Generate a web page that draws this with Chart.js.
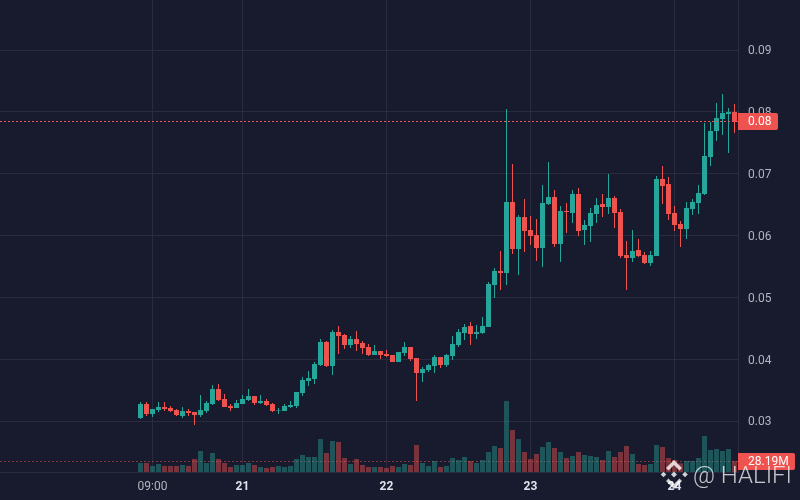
<!DOCTYPE html>
<html>
<head>
<meta charset="utf-8">
<style>
html, body { margin: 0; padding: 0; background: #181a2e; }
#wrap { width: 800px; height: 500px; }
</style>
<script src="https://cdn.jsdelivr.net/npm/chart.js@4"></script>
</head>
<body>
<div id="wrap"><canvas id="myChart" width="800" height="500"></canvas></div>
<script>
// one candle per hour, first one is 07:00
var opens = [0.03055,0.03281,0.03120,0.03184,0.03233,0.03217,0.03184,0.03087,0.03168,0.03152,
  0.03103,0.03168,0.03281,0.03523,0.03362,0.03249,0.03217,0.03281,0.03346,0.03410,
  0.03297,0.03330,0.03281,0.03176,0.03168,0.03233,0.03249,0.03459,0.03653,0.03685,
  0.03911,0.04283,0.03895,0.04444,0.04396,0.04234,0.04331,0.04267,0.04202,0.04073,
  0.04137,0.04089,0.04073,0.03960,0.04105,0.04202,0.04024,0.03782,0.03830,0.03895,
  0.04040,0.03911,0.04057,0.04234,0.04428,0.04541,0.04412,0.04428,0.04525,0.05204,
  0.05430,0.05398,0.06545,0.05785,0.06302,0.06092,0.06011,0.05801,0.06512,0.06625,
  0.05866,0.06399,0.06367,0.06674,0.06092,0.06157,0.06351,0.06512,0.06464,0.06609,
  0.06383,0.05688,0.05640,0.05769,0.05688,0.05559,0.05672,0.06916,0.06835,0.06367,
  0.06189,0.06108,0.06431,0.06528,0.06674,0.07271,0.07692,0.07885,0.07966,0.07998];
var closes = [0.03281,0.03120,0.03200,0.03233,0.03200,0.03168,0.03103,0.03168,0.03136,0.03103,
  0.03184,0.03297,0.03523,0.03346,0.03233,0.03217,0.03297,0.03362,0.03410,0.03297,
  0.03330,0.03265,0.03168,0.03184,0.03249,0.03265,0.03475,0.03669,0.03701,0.03927,
  0.04283,0.03895,0.04444,0.04380,0.04234,0.04331,0.04250,0.04186,0.04073,0.04137,
  0.04073,0.04057,0.03960,0.04121,0.04202,0.04008,0.03782,0.03846,0.03911,0.04040,
  0.03911,0.04073,0.04250,0.04444,0.04525,0.04412,0.04444,0.04541,0.05220,0.05430,
  0.05398,0.06545,0.05785,0.06302,0.06076,0.05995,0.05801,0.06528,0.06625,0.05866,
  0.06399,0.06383,0.06674,0.06076,0.06173,0.06367,0.06496,0.06464,0.06609,0.06367,
  0.05672,0.05640,0.05753,0.05672,0.05559,0.05688,0.06916,0.06803,0.06351,0.06173,
  0.06108,0.06448,0.06545,0.06690,0.07288,0.07692,0.07901,0.07982,0.07998,0.07837];
var highs = [0.03313,0.03313,0.03200,0.03313,0.03313,0.03249,0.03200,0.03233,0.03200,0.03152,
  0.03426,0.03330,0.03588,0.03604,0.03442,0.03281,0.03346,0.03426,0.03523,0.03410,
  0.03426,0.03362,0.03297,0.03217,0.03281,0.03330,0.03475,0.03717,0.03814,0.03960,
  0.04331,0.04299,0.04477,0.04541,0.04412,0.04380,0.04460,0.04299,0.04250,0.04234,
  0.04137,0.04153,0.04073,0.04121,0.04283,0.04202,0.04024,0.03879,0.03927,0.04073,
  0.04040,0.04089,0.04380,0.04493,0.04574,0.04606,0.04557,0.04687,0.05252,0.05478,
  0.05753,0.08047,0.07158,0.06334,0.06593,0.06318,0.06270,0.06819,0.07191,0.06738,
  0.06480,0.06528,0.06738,0.06771,0.06254,0.06448,0.06609,0.06674,0.06997,0.06641,
  0.06431,0.05914,0.06092,0.05947,0.05737,0.05753,0.06964,0.07126,0.06948,0.06480,
  0.06238,0.06545,0.06593,0.06819,0.07821,0.07837,0.08144,0.08289,0.08063,0.08128];
var lows = [0.03039,0.03087,0.03071,0.03152,0.03168,0.03152,0.03087,0.03055,0.03087,0.02942,
  0.03071,0.03136,0.03265,0.03330,0.03233,0.03168,0.03217,0.03281,0.03330,0.03265,
  0.03281,0.03249,0.03152,0.03120,0.03168,0.03217,0.03217,0.03410,0.03572,0.03604,
  0.03895,0.03879,0.03749,0.04089,0.04170,0.04186,0.04137,0.04089,0.04057,0.04073,
  0.04008,0.04040,0.03960,0.03960,0.04057,0.03976,0.03330,0.03636,0.03798,0.03782,
  0.03863,0.03879,0.03992,0.04202,0.04315,0.04234,0.04331,0.04412,0.04525,0.04993,
  0.05123,0.05204,0.05704,0.05365,0.05737,0.05850,0.05591,0.05494,0.06496,0.05818,
  0.05575,0.06044,0.06205,0.05995,0.05850,0.05898,0.06205,0.06302,0.06351,0.06125,
  0.05640,0.05123,0.05575,0.05656,0.05543,0.05511,0.05672,0.06512,0.06254,0.06076,
  0.05818,0.05947,0.06334,0.06351,0.06658,0.07126,0.07530,0.07627,0.07336,0.07659];
// volume in millions
var volumes = [23.1,23.1,15.4,20.5,15.4,15.4,15.4,17.9,15.4,33.3,
  53.8,23.1,48.7,33.3,23.1,12.8,17.9,17.9,23.1,17.9,
  12.8,10.2,12.8,15.4,12.8,15.4,33.3,43.6,38.4,38.4,
  84.5,48.7,79.4,76.9,35.9,20.5,33.3,17.9,12.8,12.8,
  12.8,10.2,15.4,12.8,20.5,17.9,69.2,23.1,15.4,28.2,
  12.8,15.4,35.9,30.7,38.4,28.2,23.1,30.7,51.2,66.6,
  61.5,181.9,107.6,84.5,51.2,33.3,46.1,64.0,76.9,61.5,
  51.2,35.9,41.0,51.2,43.6,41.0,38.4,30.7,53.8,38.4,
  51.2,66.6,46.1,20.5,17.9,20.5,69.2,64.0,35.9,30.7,
  22.2,28.2,28.2,35.9,92.2,56.4,58.9,53.8,58.9,28.19];

var priceTicks = [0.03, 0.04, 0.05, 0.06, 0.07, 0.08, 0.09];
var timeTickPos = [2, 17, 41, 65, 89];
var timeTickLabels = ['09:00', '21', '22', '23', '24'];

var lastPrice = 0.07845;
var lastVolume = 26.93;
var lastPriceLabel = '0.08';
var lastVolumeLabel = '28.19M';
var watermark = '@ HALIFI';

var UP = '#26a69a', DOWN = '#ef5350';
var UP_VOL = 'rgba(38,166,154,0.42)', DOWN_VOL = 'rgba(239,83,80,0.45)';
var GRID = '#2a2b3f', TEXT = '#b2b5be';
var FONT = 'Roboto, "Liberation Sans", sans-serif';

var xMin = -23.417, xMax = 99.583;

function isUp(i) { return closes[i] >= opens[i]; }

var bodyData = [], wickData = [], volData = [];
var bodyColors = [], volColors = [];
for (var i = 0; i < opens.length; i++) {
    bodyData.push({ x: i, y: [opens[i], closes[i]] });
    wickData.push({ x: i, y: [lows[i], highs[i]] });
    volData.push({ x: i, y: volumes[i] });
    bodyColors.push(isUp(i) ? UP : DOWN);
    volColors.push(isUp(i) ? UP_VOL : DOWN_VOL);
}

// price tags + watermark go on top of everything
var overlay = {
    id: 'overlay',
    afterDraw: function (chart) {
        var c = chart.ctx;
        var right = chart.chartArea.right;
        function tag(text, y, w) {
            var mid = Math.floor(y) + 0.5;
            c.save();
            c.fillStyle = DOWN;
            c.beginPath();
            c.roundRect(right, mid - 8.5, w, 17, [0, 2, 2, 0]);
            c.fill();
            c.fillStyle = '#ffffff';
            c.font = '12px ' + FONT;
            c.textBaseline = 'middle';
            c.textAlign = 'left';
            c.fillText(text, right + 10, mid);
            c.restore();
        }
        tag(lastPriceLabel, chart.scales.y.getPixelForValue(lastPrice), 40);
        tag(lastVolumeLabel, chart.scales.vol.getPixelForValue(lastVolume), 57);

        // binance style logo
        c.save();
        c.fillStyle = 'rgba(255,255,255,0.8)';
        function diamond(cx, cy, r) {
            c.beginPath();
            c.moveTo(cx, cy - r); c.lineTo(cx + r, cy); c.lineTo(cx, cy + r); c.lineTo(cx - r, cy);
            c.closePath();
            c.fill();
        }
        function chevron(cx, cy, dir) {
            c.beginPath();
            c.moveTo(cx, cy - 7.5 * dir);
            c.lineTo(cx + 8, cy + 0.5 * dir);
            c.lineTo(cx + 5.5, cy + 3 * dir);
            c.lineTo(cx, cy - 2.5 * dir);
            c.lineTo(cx - 5.5, cy + 3 * dir);
            c.lineTo(cx - 8, cy + 0.5 * dir);
            c.closePath();
            c.fill();
        }
        diamond(674, 474.5, 3);
        diamond(663.5, 474.5, 2.8);
        diamond(685, 474.5, 2.8);
        chevron(674, 467.5, 1);
        chevron(674, 481.5, -1);
        c.font = '300 24px ' + FONT;
        c.textBaseline = 'alphabetic';
        c.textAlign = 'left';
        c.fillStyle = 'rgba(255,255,255,0.75)';
        c.fillText(watermark, 693, 483);
        c.restore();
    }
};

var ctx = document.getElementById('myChart').getContext('2d');
var chart = new Chart(ctx, {
    type: 'bar',
    data: {
        datasets: [
            {
                type: 'line', data: [{ x: xMin, y: lastPrice }, { x: xMax, y: lastPrice }], yAxisID: 'y',
                borderColor: DOWN, borderWidth: 1, borderDash: [2, 2], pointRadius: 0, order: 1
            },
            {
                type: 'line', data: [{ x: xMin, y: lastVolume }, { x: xMax, y: lastVolume }], yAxisID: 'vol',
                borderColor: 'rgba(239,83,80,0.5)', borderWidth: 1, borderDash: [2, 2], pointRadius: 0, order: 5
            },
            {
                data: bodyData, yAxisID: 'y', backgroundColor: bodyColors,
                barThickness: 5, grouped: false, inflateAmount: 0, order: 2
            },
            {
                data: wickData, yAxisID: 'y', backgroundColor: bodyColors,
                barThickness: 1, grouped: false, inflateAmount: 0, order: 3
            },
            {
                data: volData, yAxisID: 'vol', backgroundColor: volColors,
                barThickness: 5, grouped: false, inflateAmount: 0, order: 4
            }
        ]
    },
    options: {
        responsive: false,
        animation: false,
        layout: { padding: 0 },
        plugins: { legend: { display: false }, tooltip: { enabled: false } },
        scales: {
            x: {
                type: 'linear',
                bounds: 'data',
                min: xMin,
                max: xMax,
                offset: false,
                afterBuildTicks: function (axis) {
                    axis.ticks = timeTickPos.map(function (v) { return { value: v }; });
                },
                afterFit: function (axis) {
                    axis.height = 28;
                    axis.paddingLeft = 0;
                    axis.paddingRight = 0;
                },
                border: { color: GRID },
                grid: { color: GRID, drawTicks: false, offset: false },
                ticks: {
                    autoSkip: false,
                    maxRotation: 0,
                    padding: 8,
                    callback: function (v) { return timeTickLabels[timeTickPos.indexOf(v)]; },
                    color: function (c) { return c.index === 0 ? TEXT : '#e0e3eb'; },
                    font: function (c) {
                        return { family: FONT, size: 12, weight: c.index === 0 ? 'normal' : 'bold' };
                    }
                }
            },
            y: {
                position: 'right',
                bounds: 'data',
                min: 0.02183,
                max: 0.09808,
                afterBuildTicks: function (axis) {
                    axis.ticks = priceTicks.map(function (v) { return { value: v }; });
                },
                afterFit: function (axis) {
                    axis.width = 62;
                    axis.paddingTop = 0;
                    axis.paddingBottom = 0;
                },
                border: { color: GRID },
                grid: { color: GRID, drawTicks: false },
                ticks: {
                    padding: 10,
                    labelOffset: 1,
                    color: TEXT,
                    font: { family: FONT, size: 12 },
                    callback: function (v) { return v.toFixed(2); }
                }
            },
            vol: { display: false, min: 0, max: 1210 }
        }
    },
    plugins: [overlay]
});
</script>
</body>
</html>
